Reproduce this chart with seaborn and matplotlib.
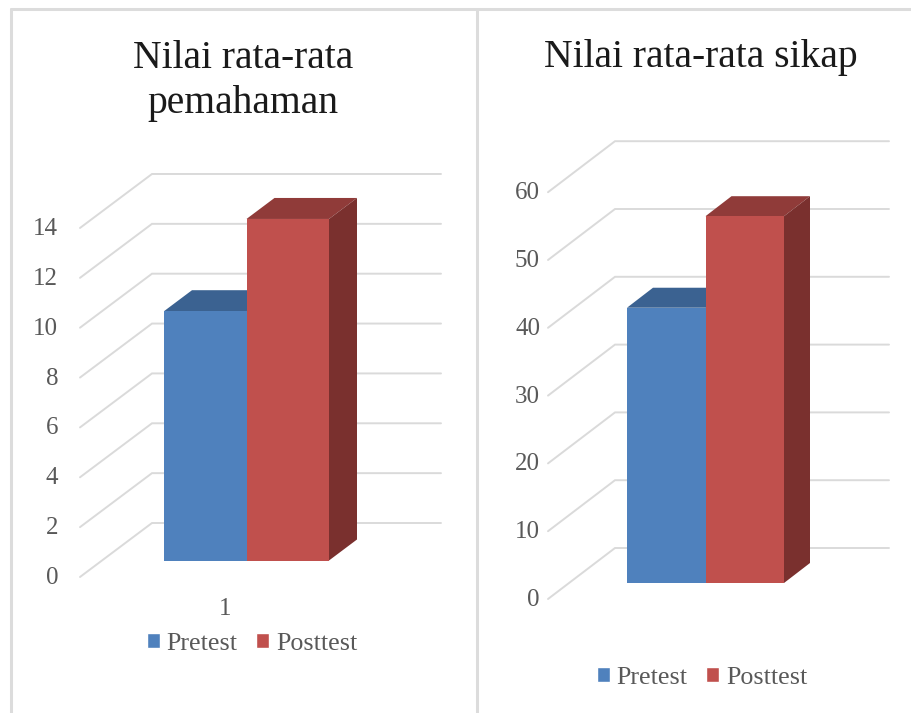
"""Nilai rata-rata pemahaman / sikap: pretest vs posttest, pseudo-3D bars."""
import pandas as pd
import matplotlib
matplotlib.use('Agg')
import matplotlib.pyplot as plt
from matplotlib.lines import Line2D
from matplotlib.patches import Polygon
from matplotlib.transforms import Affine2D
import seaborn as sns

W, H = 911, 713

TESTS = ['Pretest', 'Posttest']
PEMAHAMAN = [10.0, 13.7]
SIKAP = [40.6, 54.1]
TICKS_PEMAHAMAN = [0, 2, 4, 6, 8, 10, 12, 14]
TICKS_SIKAP = [0, 10, 20, 30, 40, 50, 60]

FACE = ['#4F81BD', '#C0504D']
TOP = ['#3B6291', '#903B39']
SIDE = ['#2F4E74', '#7A302E']
GRID = '#DADADA'
TEXT = '#595959'

sns.set_theme(style='white')
plt.rcParams['font.family'] = ['Liberation Serif', 'DejaVu Serif']

fig = plt.figure(figsize=(W / 100, H / 100), dpi=100)


def make_panel(values, ticks, box, unit, depth, back, front, grid_right, label_x, label_dy,
               legend_xy, xlabel):
    # box = bar left, bar right, bar bottom (pixels from the top left)
    x0, x1, y0 = box
    ymax = ticks[-1]
    ax = fig.add_axes([x0 / W, 1 - y0 / H, (x1 - x0) / W, ymax * unit / H])
    ax.patch.set_alpha(0)
    df = pd.DataFrame({'kelas': ['1', '1'], 'tes': TESTS, 'nilai': values})
    sns.barplot(data=df, x='kelas', y='nilai', hue='tes', palette=FACE, saturation=1,
                width=1, gap=0, ax=ax, zorder=3)
    ax.set_xlim(-0.5, 0.5)
    ax.set_ylim(0, ymax)
    sx = 1 / (x1 - x0)  # data units per pixel
    sy = 1 / unit

    # back wall and floor lines
    plane = -0.5 + (back[0] - x0) * sx - back[1] * sx
    for t in ticks:
        ax.plot([plane - front[0] * sx, plane + back[1] * sx, 0.5 + (grid_right - x1) * sx],
                [t - front[1] * sy, t + back[2] * sy, t + back[2] * sy],
                color=GRID, lw=1.4, clip_on=False, zorder=1, solid_joinstyle='miter')

    # depth faces of each bar
    dx, dy = depth[0] * sx, depth[1] * sy
    for i, bar in enumerate(ax.patches[:2]):
        l, r, h = bar.get_x(), bar.get_x() + bar.get_width(), bar.get_height()
        z = 2 + i * 2
        bar.set_zorder(z + 1)
        bar.set_linewidth(0)
        ax.add_patch(Polygon([(l, h), (l + dx, h + dy), (r + dx, h + dy), (r, h)],
                             fc=TOP[i], ec='none', clip_on=False, zorder=z))
        ax.add_patch(Polygon([(r, 0), (r + dx, dy), (r + dx, h + dy), (r, h)],
                             fc=SIDE[i], ec='none', clip_on=False, zorder=z))

    sns.despine(ax=ax, left=True, bottom=True)
    ax.set_xlabel('')
    ax.set_ylabel('')
    ax.set_yticks(ticks)
    ax.tick_params(axis='y', length=0, pad=(x0 - label_x) * 0.72, labelsize=18, labelcolor=TEXT)
    for lab in ax.get_yticklabels():
        lab.set_transform(lab.get_transform() + Affine2D().translate(0, -label_dy))
    if xlabel:
        ax.tick_params(axis='x', length=0, pad=27, labelsize=18, labelcolor=TEXT)
        for lab in ax.get_xticklabels():
            lab.set_transform(lab.get_transform() + Affine2D().translate(-21, 0))
    else:
        ax.set_xticks([])

    sns.move_legend(ax, 'center', bbox_to_anchor=(legend_xy[0] / W, 1 - legend_xy[1] / H),
                    bbox_transform=fig.transFigure, ncol=2, frameon=False, title=None,
                    fontsize=18.7, labelcolor=TEXT, handlelength=0.52, handleheight=0.52,
                    handletextpad=0.25, columnspacing=0.7, borderpad=0, borderaxespad=0)
    return ax


make_panel(PEMAHAMAN, TICKS_PEMAHAMAN, (164, 329, 560.5), 24.93, (28, 21), (152, 50, 37.5),
           (22, 16.5), 441, 58, 15, (252, 644), True)
make_panel(SIKAP, TICKS_SIKAP, (627, 784, 583), 6.78, (26, 20), (615, 46, 35),
           (21, 16), 889, 540, 14.5, (702, 678), False)

TITLE = dict(ha='center', va='center', fontsize=28.5, color='#1A1A1A')
fig.text(243 / W, 1 - 58 / H, 'Nilai rata-rata', **TITLE)
fig.text(243 / W, 1 - 104 / H, 'pemahaman', **TITLE)
fig.text(701 / W, 1 - 58 / H, 'Nilai rata-rata sikap', **TITLE)

# panel frames
for xs, ys in [((11, 11), (9, H)), ((11, W), (9, 9)), ((477, 477), (9, H))]:
    fig.add_artist(Line2D([x / W for x in xs], [1 - y / H for y in ys], color='#DCDCDC', lw=2.2))

fig.savefig('out.png', dpi=100)
